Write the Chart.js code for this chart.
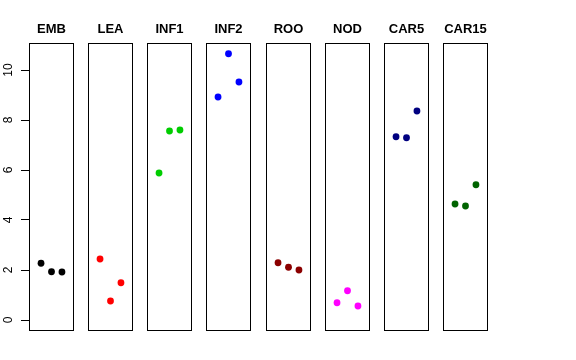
<!DOCTYPE html>
<html>
<head>
<meta charset="utf-8">
<script src="https://cdn.jsdelivr.net/npm/chart.js"></script>
<style>
    body { margin: 0; background: #fff; }
    #wrap { position: relative; width: 576px; height: 360px; overflow: hidden; }
    .panel { position: absolute; top: 0; height: 360px; }
</style>
</head>
<body>
<div id="wrap"></div>
<script>
// tissue groups, one panel each
const groups = ['EMB', 'LEA', 'INF1', 'INF2', 'ROO', 'NOD', 'CAR5', 'CAR15'];
// three replicates per group
const rep1 = [2.27, 2.44, 5.88, 8.92, 2.29, 0.69, 7.33, 4.64];
const rep2 = [1.93, 0.76, 7.56, 10.65, 2.11, 1.17, 7.29, 4.56];
const rep3 = [1.92, 1.49, 7.60, 9.52, 2.00, 0.56, 8.36, 5.41];
const groupColors = ['#000000', '#FF0000', '#00CD00', '#0000FF', '#8B0000', '#FF00FF', '#000080', '#006400'];
const yTicks = [0, 2, 4, 6, 8, 10];

const Y_MIN = -0.44, Y_MAX = 11.08;
const AXIS_W = 29;
const PANEL_W = 45;
const fontFamily = '"Liberation Sans", Arial, Helvetica, sans-serif';

// draws the box round each panel
const boxPlugin = {
    id: 'panelBox',
    afterDraw(chart) {
        const a = chart.chartArea;
        const ctx = chart.ctx;
        ctx.save();
        ctx.strokeStyle = '#000';
        ctx.lineWidth = 1;
        ctx.strokeRect(Math.round(a.left) + 0.5, Math.round(a.top) + 0.5,
            Math.round(a.right - a.left) - 1, Math.round(a.bottom - a.top) - 1);
        ctx.restore();
    }
};

// rotated y tick labels, like R's las=0
const yLabelPlugin = {
    id: 'yLabels',
    afterDraw(chart) {
        const scale = chart.scales.y;
        if (!scale || !scale.options.display) return;
        const ctx = chart.ctx;
        ctx.save();
        ctx.fillStyle = '#000';
        ctx.font = '12px ' + fontFamily;
        ctx.textAlign = 'center';
        ctx.textBaseline = 'middle';
        yTicks.forEach(v => {
            ctx.save();
            ctx.translate(8.5, scale.getPixelForValue(v));
            ctx.rotate(-Math.PI / 2);
            ctx.fillText(String(v), 0, 0);
            ctx.restore();
        });
        ctx.restore();
    }
};

const wrap = document.getElementById('wrap');

groups.forEach((name, i) => {
    const withAxis = i === 0;
    const panelLeft = Math.round(29 + i * 59.14);
    const extra = withAxis ? AXIS_W : 0;
    const w = PANEL_W + extra;

    const box = document.createElement('div');
    box.className = 'panel';
    box.style.left = (panelLeft - extra) + 'px';
    box.style.width = w + 'px';
    const canvas = document.createElement('canvas');
    canvas.width = w;
    canvas.height = 360;
    canvas.style.width = w + 'px';
    canvas.style.height = '360px';
    box.appendChild(canvas);
    wrap.appendChild(box);

    const points = [rep1[i], rep2[i], rep3[i]].map((v, j) => ({ x: j + 1, y: v }));

    new Chart(canvas.getContext('2d'), {
        type: 'scatter',
        data: {
            datasets: [{
                data: points,
                backgroundColor: groupColors[i],
                borderColor: groupColors[i],
                borderWidth: 0,
                pointRadius: 3.4,
            }],
        },
        options: {
            responsive: false,
            maintainAspectRatio: false,
            animation: false,
            devicePixelRatio: 1,
            layout: { autoPadding: false, padding: { top: 0, bottom: 29, left: 0, right: 0 } },
            plugins: {
                legend: { display: false },
                tooltip: { enabled: false },
                title: {
                    display: true,
                    text: name,
                    fullSize: false,
                    color: '#000',
                    font: { family: fontFamily, size: 13, weight: 'bold', lineHeight: 1.2 },
                    padding: { top: 22, bottom: 5.4 },
                },
            },
            scales: {
                x: {
                    type: 'linear',
                    min: -0.15,
                    max: 4.15,
                    display: false,
                },
                y: {
                    type: 'linear',
                    min: Y_MIN,
                    max: Y_MAX,
                    display: withAxis,
                    afterBuildTicks: (scale) => {
                        scale.ticks = yTicks.map(v => ({ value: v }));
                    },
                    afterFit: (scale) => {
                        scale.width = withAxis ? AXIS_W : 0;
                    },
                    border: { display: false },
                    grid: {
                        drawOnChartArea: false,
                        drawTicks: true,
                        tickLength: 8,
                        color: '#000',
                        lineWidth: 1,
                    },
                    ticks: { display: false },
                },
            },
        },
        plugins: [boxPlugin, yLabelPlugin],
    });
});
</script>
</body>
</html>
